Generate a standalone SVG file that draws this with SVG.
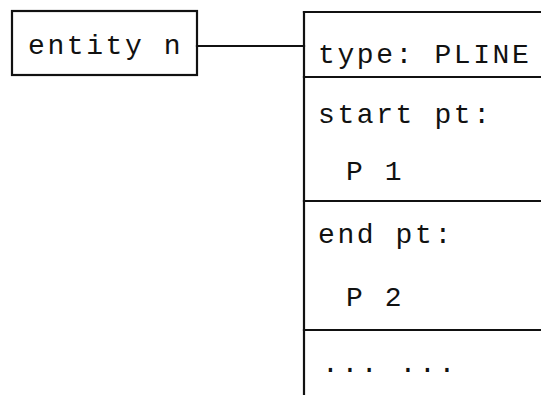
<svg xmlns="http://www.w3.org/2000/svg" width="541" height="396" viewBox="0 0 541 396">
<style>
.ln{stroke:#111;stroke-width:2.2;fill:none;stroke-linecap:square}
.t{font-family:"Liberation Mono","DejaVu Sans Mono",monospace;font-size:28px;letter-spacing:2.6px;fill:#111}
</style>
<rect width="541" height="396" fill="#fff"/>
<g id="entity">
<rect class="ln" x="12" y="11" width="185" height="64"/>
<text class="t" x="28" y="54">entity n</text>
</g>
<g id="connectors">
<line class="ln" x1="197" y1="46" x2="304" y2="46"/>
</g>
<g id="record">
<line class="ln" x1="304" y1="12" x2="541" y2="12"/>
<line class="ln" x1="304" y1="12" x2="304" y2="394"/>
<line class="ln" x1="304" y1="77" x2="541" y2="77"/>
<line class="ln" x1="304" y1="201" x2="541" y2="201"/>
<line class="ln" x1="304" y1="330" x2="541" y2="330"/>
<text class="t" x="318" y="63">type: PLINE</text>
<text class="t" x="318" y="123">start pt:</text>
<text class="t" x="346" y="180">P 1</text>
<text class="t" x="318" y="243">end pt:</text>
<text class="t" x="346" y="306">P 2</text>
<text class="t" x="322" y="372">... ...</text>
</g>
</svg>
